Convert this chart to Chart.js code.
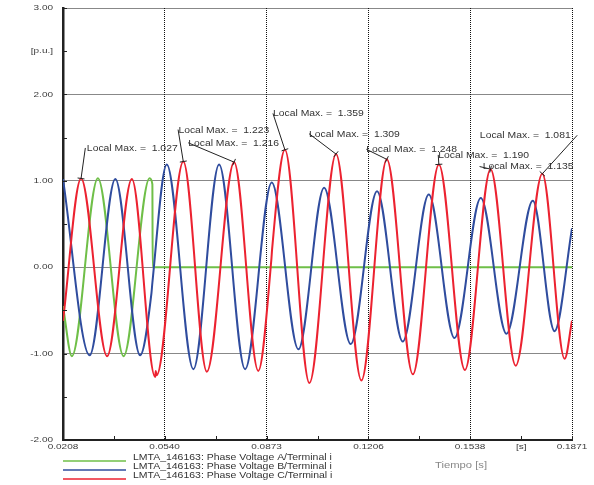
<!DOCTYPE html>
<html lang="es">
<head>
    <meta charset="UTF-8">
    <title>LMTA_146163 - Phase Voltages</title>
    <script src="https://cdn.jsdelivr.net/npm/chart.js"></script>
    <style>
        * {
            margin: 0;
            padding: 0;
            box-sizing: border-box;
        }

        body {
            background: #ffffff;
            width: 594px;
            height: 485px;
            overflow: hidden;
        }

        .chart-box {
            position: relative;
            width: 594px;
            height: 485px;
        }
    </style>
</head>
<body>
    <div class="chart-box">
        <canvas id="voltChart"></canvas>
    </div>

    <script>
        // Phase A (green): collapses to zero at the first event
        const timesA = [0.0208, 0.0237, 0.0322, 0.0406, 0.0491, 0.0500, 0.0501, 0.1871];
        const voltsA = [-0.45, -1.03, 1.03, -1.03, 1.03, 0.96, 0.00, 0.00];

        // Phase B (blue)
        const timesB = [0.0208, 0.0295, 0.0379, 0.0460, 0.0497, 0.0500, 0.0547, 0.0634, 0.0718, 0.0803,
            0.0890, 0.0977, 0.1061, 0.1148, 0.1234, 0.1318, 0.1403, 0.1487, 0.1573, 0.1657,
            0.1743, 0.1814, 0.1871];
        const voltsB = [1.02, -1.02, 1.02, -1.02, -0.30, -0.18, 1.19, -1.18, 1.19, -1.18,
            0.98, -0.95, 0.92, -0.89, 0.88, -0.86, 0.84, -0.82, 0.80, -0.77,
            0.77, -0.74, 0.45];

        // Phase C (red), with the ripple at the first trough after the event
        const timesC = [0.0208, 0.0267, 0.0352, 0.0433, 0.0509, 0.0511, 0.0514, 0.0601, 0.0678, 0.0767,
            0.0846, 0.0889, 0.0891, 0.0933, 0.1013, 0.1100, 0.1183, 0.1266, 0.1351, 0.1436,
            0.1521, 0.1605, 0.1687, 0.1774, 0.1847, 0.1871];
        const voltsC = [-0.62, 1.027, -1.03, 1.02, -1.27, -1.20, -1.25, 1.223, -1.21, 1.216,
            -1.20, 0.10, 0.20, 1.359, -1.34, 1.309, -1.31, 1.248, -1.24, 1.190,
            -1.19, 1.135, -1.14, 1.081, -1.06, -0.62];

        // Local maxima marked on phase C
        const maxTimes = [0.0267, 0.0601, 0.0767, 0.0933, 0.1100, 0.1266, 0.1436, 0.1605, 0.1774];
        const maxValues = [1.027, 1.223, 1.216, 1.359, 1.309, 1.248, 1.190, 1.135, 1.081];
        // where each label sits and where its leader line starts
        const labelT = [0.0286, 0.0585, 0.0617, 0.0894, 0.1012, 0.1199, 0.1434, 0.1579, 0.1570];
        const labelV = [1.37, 1.585, 1.431, 1.772, 1.539, 1.358, 1.292, 1.165, 1.527];
        const leadT = [0.0281, 0.0584, 0.0617, 0.0894, 0.1012, 0.1199, 0.1434, 0.1569, 0.1888];
        const leadV = [1.38, 1.593, 1.44, 1.78, 1.545, 1.365, 1.30, 1.165, 1.527];

        // axis ticks (odd index = minor)
        const xTicks = [0.0208, 0.0374, 0.0540, 0.0707, 0.0873, 0.1040, 0.1206, 0.1372, 0.1538, 0.1705, 0.1871];
        const xLabels = ['0.0208', '', '0.0540', '', '0.0873', '', '0.1206', '', '0.1538', '[s]', '0.1871'];
        const yTicks = [-2, -1.5, -1, -0.5, 0, 0.5, 1, 1.5, 2, 2.5, 3];
        const yLabels = ['-2.00', '', '-1.00', '', '0.00', '', '1.00', '', '2.00', '[p.u.]', '3.00'];

        const seriesNames = [
            'LMTA_146163: Phase Voltage A/Terminal i',
            'LMTA_146163: Phase Voltage B/Terminal i',
            'LMTA_146163: Phase Voltage C/Terminal i'
        ];
        const seriesColors = ['#6fbf48', '#2f4c9e', '#ec2230'];

        const toPoints = (ts, vs) => ts.map((t, i) => ({ x: t, y: vs[i] }));

        // wide, short lettering like the original export
        const WIDEN = 1.25;
        function wideText(ctx, str, x, y, align, size, color) {
            ctx.save();
            ctx.font = size + 'px "Liberation Sans", Arial, Helvetica, sans-serif';
            ctx.fillStyle = color;
            ctx.textBaseline = 'middle';
            ctx.textAlign = align;
            ctx.translate(x, y);
            ctx.scale(WIDEN, 1);
            ctx.fillText(str, 0, 0);
            ctx.restore();
        }

        const decorPlugin = {
            id: 'decor',
            afterDatasetsDraw(chart) {
                const ctx = chart.ctx;
                const xs = chart.scales.x;
                const ys = chart.scales.y;
                const area = chart.chartArea;

                // small inner tick marks
                ctx.save();
                ctx.strokeStyle = '#222';
                ctx.lineWidth = 1;
                ctx.beginPath();
                xTicks.forEach(v => {
                    const px = Math.round(xs.getPixelForValue(v)) + 0.5;
                    ctx.moveTo(px, area.bottom);
                    ctx.lineTo(px, area.bottom - 4);
                });
                yTicks.forEach(v => {
                    const py = Math.round(ys.getPixelForValue(v)) + 0.5;
                    ctx.moveTo(area.left, py);
                    ctx.lineTo(area.left + 4, py);
                });
                ctx.stroke();
                ctx.restore();

                // tick labels
                xTicks.forEach((v, i) => {
                    if (xLabels[i]) wideText(ctx, xLabels[i], xs.getPixelForValue(v), area.bottom + 7, 'center', 8, '#3a3a3a');
                });
                yTicks.forEach((v, i) => {
                    if (yLabels[i]) wideText(ctx, yLabels[i], area.left - 10, ys.getPixelForValue(v), 'right', 8, '#3a3a3a');
                });

                // local max annotations
                maxTimes.forEach((t, i) => {
                    const x0 = xs.getPixelForValue(leadT[i]);
                    const y0 = ys.getPixelForValue(leadV[i]);
                    const x1 = xs.getPixelForValue(t);
                    const y1 = ys.getPixelForValue(maxValues[i]);
                    const len = Math.hypot(x1 - x0, y1 - y0) || 1;
                    const nx = -(y1 - y0) / len * 3.5;
                    const ny = (x1 - x0) / len * 3.5;
                    ctx.save();
                    ctx.strokeStyle = '#222';
                    ctx.lineWidth = 1;
                    ctx.beginPath();
                    ctx.moveTo(x0, y0);
                    ctx.lineTo(x1, y1);
                    ctx.moveTo(x1 - nx, y1 - ny);
                    ctx.lineTo(x1 + nx, y1 + ny);
                    ctx.stroke();
                    ctx.restore();
                    wideText(ctx, 'Local Max. =  ' + maxValues[i].toFixed(3),
                        xs.getPixelForValue(labelT[i]), ys.getPixelForValue(labelV[i]), 'left', 8.3, '#333');
                });

                // legend under the axis
                seriesNames.forEach((name, i) => {
                    const yl = area.bottom + 21 + i * 9;
                    ctx.save();
                    ctx.strokeStyle = seriesColors[i];
                    ctx.lineWidth = 1.5;
                    ctx.beginPath();
                    ctx.moveTo(area.left, yl);
                    ctx.lineTo(area.left + 63, yl);
                    ctx.stroke();
                    ctx.restore();
                    wideText(ctx, name, area.left + 70, yl - 3, 'left', 8.4, '#333');
                });

                wideText(ctx, 'Tiempo [s]', 461, 466, 'center', 9, '#888');
            }
        };

        new Chart(document.getElementById('voltChart').getContext('2d'), {
            type: 'line',
            data: {
                datasets: [{
                    label: seriesNames[0],
                    data: toPoints(timesA, voltsA),
                    borderColor: seriesColors[0],
                    order: 3
                }, {
                    label: seriesNames[1],
                    data: toPoints(timesB, voltsB),
                    borderColor: seriesColors[1],
                    order: 2
                }, {
                    label: seriesNames[2],
                    data: toPoints(timesC, voltsC),
                    borderColor: seriesColors[2],
                    order: 1
                }]
            },
            options: {
                responsive: true,
                maintainAspectRatio: false,
                animation: false,
                layout: { padding: { top: 8, right: 22, left: 0, bottom: 0 } },
                elements: {
                    line: { borderWidth: 2, cubicInterpolationMode: 'monotone', fill: false },
                    point: { radius: 0 }
                },
                plugins: {
                    legend: { display: false },
                    tooltip: { enabled: false }
                },
                scales: {
                    x: {
                        type: 'linear',
                        min: 0.0208,
                        max: 0.1871,
                        afterBuildTicks: s => { s.ticks = xTicks.map(v => ({ value: v })); },
                        afterFit: s => { s.height = 45; },
                        ticks: { display: false },
                        grid: {
                            color: c => c.index % 2 === 0 ? '#111' : 'rgba(0,0,0,0)',
                            lineWidth: 1,
                            drawTicks: false
                        },
                        border: { display: true, color: '#222', width: 2, dash: [1, 1] }
                    },
                    y: {
                        min: -2,
                        max: 3,
                        afterBuildTicks: s => { s.ticks = yTicks.map(v => ({ value: v })); },
                        afterFit: s => { s.width = 63; },
                        ticks: { display: false },
                        grid: {
                            color: c => c.index % 2 === 0 ? '#111' : 'rgba(0,0,0,0)',
                            lineWidth: 1,
                            drawTicks: false
                        },
                        border: { display: true, color: '#222', width: 2.5, dash: [1, 1] }
                    }
                }
            },
            plugins: [decorPlugin]
        });
    </script>
</body>
</html>
